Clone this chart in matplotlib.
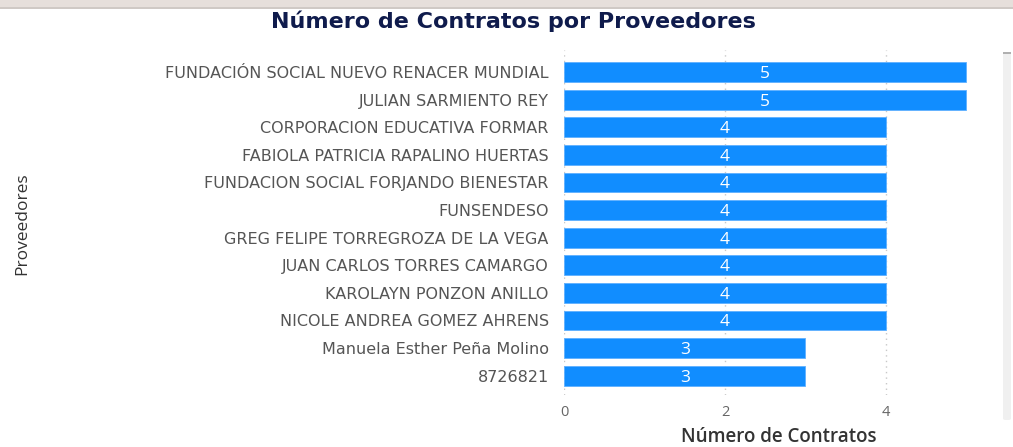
import matplotlib
matplotlib.use("Agg")
import matplotlib.pyplot as plt
from matplotlib.patches import Rectangle, FancyBboxPatch

providers = [
    "FUNDACIÓN SOCIAL NUEVO RENACER MUNDIAL",
    "JULIAN SARMIENTO REY",
    "CORPORACION EDUCATIVA FORMAR",
    "FABIOLA PATRICIA RAPALINO HUERTAS",
    "FUNDACION SOCIAL FORJANDO BIENESTAR",
    "FUNSENDESO",
    "GREG FELIPE TORREGROZA DE LA VEGA",
    "JUAN CARLOS TORRES CAMARGO",
    "KAROLAYN PONZON ANILLO",
    "NICOLE ANDREA GOMEZ AHRENS",
    "Manuela Esther Peña Molino",
    "8726821",
]
contracts = [5, 5, 4, 4, 4, 4, 4, 4, 4, 4, 3, 3]
xticks = [0, 2, 4]

W, H = 1013, 447
fig = plt.figure(figsize=(W / 100, H / 100), dpi=100)
fig.patch.set_facecolor("white")

# top band
fig.patches.append(Rectangle((0, 1 - 7 / H), 1, 7 / H, transform=fig.transFigure,
                             facecolor="#e6dfdb", edgecolor="none"))
fig.patches.append(Rectangle((0, 1 - 9 / H), 1, 2 / H, transform=fig.transFigure,
                             facecolor="#cfc9c5", edgecolor="none"))
# scrollbar
fig.patches.append(FancyBboxPatch((1003 / W, 1 - 420 / H), 8 / W, 368 / H,
                                  boxstyle="round,pad=0,rounding_size=0.003",
                                  transform=fig.transFigure,
                                  facecolor="#f0f0f0", edgecolor="none"))
fig.patches.append(Rectangle((1003 / W, 1 - 54 / H), 8 / W, 2 / H, transform=fig.transFigure,
                             facecolor="#b0b0b0", edgecolor="none"))

left, right = 564 / W, 993 / W
top, bottom = 1 - 50 / H, 1 - 395 / H
ax = fig.add_axes([left, bottom, right - left, top - bottom])

y = list(range(len(providers)))
bars = ax.barh(y, contracts, height=0.72, color="#118DFF", edgecolor="#5fb0ff",
               linewidth=0.6, zorder=3)
ax.set_ylim(len(providers) - 0.3, -0.8)
ax.set_xlim(0, 5.33)

for b, v in zip(bars, contracts):
    ax.text(b.get_width() / 2, b.get_y() + b.get_height() / 2, str(v),
            ha="center", va="center_baseline", color="white", fontsize=12.5,
            family="Open Sans", zorder=4)

ax.set_yticks(y)
ax.set_yticklabels(providers, fontsize=11.5, color="#555555", family="DejaVu Sans")
ax.set_xticks(xticks)
ax.set_xticklabels([str(t) for t in xticks], fontsize=10.5, color="#666666", family="Open Sans")
ax.tick_params(axis="y", length=0, pad=11)
ax.tick_params(axis="x", length=0, pad=7)

ax.grid(axis="x", linestyle=(0, (1, 3)), color="#c8c8c8", linewidth=1, zorder=0)
ax.grid(axis="y", visible=False)
for s in ax.spines.values():
    s.set_visible(False)

ax.set_xlabel("Número de Contratos", fontsize=13.5, color="#333333",
              family="Open Sans", fontweight="semibold", labelpad=5)
fig.text(22 / W, 1 - 224 / H, "Proveedores", rotation=90, ha="center", va="center",
         fontsize=12.5, color="#333333", family="Open Sans")

fig.text(513 / W, 1 - 21 / H, "Número de Contratos por Proveedores", ha="center",
         va="center", fontsize=16, fontweight="bold", color="#0f1b4c",
         family="DejaVu Sans")

fig.savefig("out.png", dpi=100)
